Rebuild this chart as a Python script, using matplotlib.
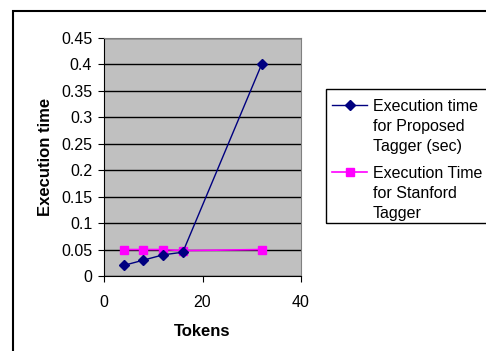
import matplotlib
matplotlib.use("Agg")
import matplotlib.pyplot as plt
from matplotlib.patches import Rectangle
from matplotlib.lines import Line2D

plt.rcParams['font.family'] = ['Liberation Sans', 'DejaVu Sans']

tokens = [4, 8, 12, 16, 32]
proposed = [0.02, 0.03, 0.04, 0.045, 0.40]
stanford = [0.05, 0.05, 0.05, 0.048, 0.05]
yticks = [0, 0.05, 0.1, 0.15, 0.2, 0.25, 0.3, 0.35, 0.4, 0.45]
ytick_labels = ['0', '0.05', '0.1', '0.15', '0.2', '0.25', '0.3', '0.35', '0.4', '0.45']
xticks = [0, 20, 40]
series_labels = [['Execution time', 'for Proposed', 'Tagger (sec)'],
                 ['Execution Time', 'for Stanford', 'Tagger']]

W, H = 486, 351
fig = plt.figure(figsize=(W / 100, H / 100), dpi=100)
fig.patch.set_facecolor('white')


def fx(px):
    return px / W


def fy(py):
    return 1 - py / H


# outer chart frame
fig.add_artist(Rectangle((fx(13), -0.1), 1.2, fy(11) + 0.1,
                         transform=fig.transFigure, fill=False,
                         edgecolor='black', linewidth=1.5))

ax = fig.add_axes([fx(104), fy(276), (301 - 104) / W, (276 - 38) / H])
ax.set_facecolor('#C0C0C0')
ax.set_xlim(0, 40)
ax.set_ylim(0, 0.45)
ax.set_yticks(yticks)
ax.set_yticklabels(ytick_labels)
ax.set_xticks(xticks)
ax.yaxis.grid(True, color='black', linewidth=1)
ax.set_axisbelow(True)
for s in ['top', 'right']:
    ax.spines[s].set_color('#808080')
for s in ['left', 'bottom']:
    ax.spines[s].set_color('black')
ax.tick_params(axis='both', labelsize=11.5, length=4.5, direction='out', color='black')
ax.tick_params(axis='y', pad=4)
ax.tick_params(axis='x', pad=9)

styles = [dict(color='#000080', marker='D', markersize=5, linewidth=1, zorder=3),
          dict(color='#FF00FF', marker='s', markersize=6, linewidth=1.2, zorder=2)]

ax.plot(tokens, proposed, **styles[0])
ax.plot(tokens, stanford, **styles[1])

ax.set_xlabel('Tokens', fontsize=12, fontweight='bold', labelpad=10)
ax.set_ylabel('Execution time', fontsize=12, fontweight='bold', labelpad=6)

# legend box, running past the right edge of the chart area
fig.add_artist(Rectangle((fx(326), fy(223)), 1.0, fy(89) - fy(223),
                         transform=fig.transFigure, fill=False,
                         edgecolor='black', linewidth=1))
entry_top = [105, 172]
line_step = 20
for lines, st, y0 in zip(series_labels, styles, entry_top):
    kw = {k: v for k, v in st.items() if k != 'zorder'}
    fig.add_artist(Line2D([fx(332), fx(367)], [fy(y0), fy(y0)],
                          transform=fig.transFigure, markevery=[], **kw))
    fig.add_artist(Line2D([fx(349.5)], [fy(y0)], transform=fig.transFigure,
                          linestyle='none', marker=kw['marker'],
                          markersize=kw['markersize'], color=kw['color']))
    for i, txt in enumerate(lines):
        fig.text(fx(373), fy(y0 + i * line_step), txt, fontsize=11.5,
                 ha='left', va='center_baseline')

fig.savefig('out.png', dpi=100)
